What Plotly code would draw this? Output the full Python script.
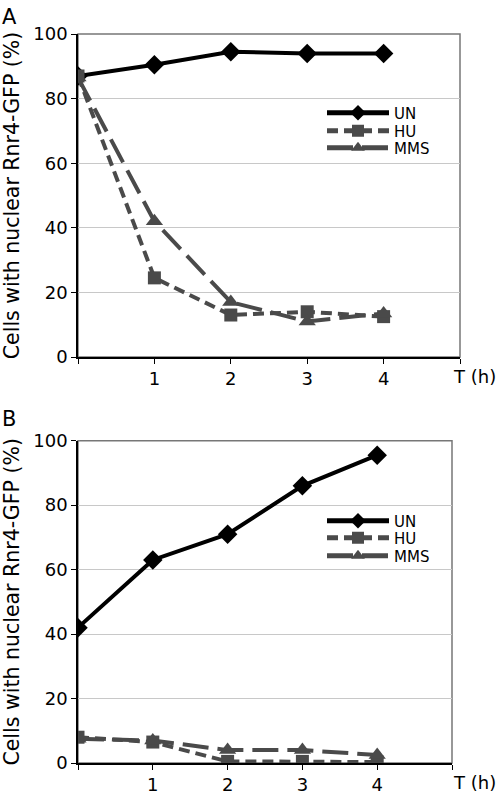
import plotly.graph_objects as go

hours = [0, 1, 2, 3, 4]
tick_vals = [0, 1, 2, 3, 4, 5]
tick_text = ["", "1", "2", "3", "4", ""]
y_ticks = [0, 20, 40, 60, 80, 100]

a_un = [87, 90.5, 94.5, 94, 94]
a_hu = [87, 24.5, 13, 14, 12.5]
a_mms = [86.5, 42, 17, 11, 13.5]

b_un = [42, 63, 71, 86, 95.5]
b_hu = [8, 6.5, 0.5, 0.5, 0.3]
b_mms = [7.5, 7, 4, 4, 2.5]

series_names = ["UN", "HU", "MMS"]
W, H = 498, 796
GRAY = "#4a4a4a"
FONT = "DejaVu Sans"

fig = go.Figure()

leg_ids = ["legend", "legend2", "legend3", "legend4", "legend5", "legend6"]

def add_panel(xa, ya, legs, un, hu, mms):
    specs = [
        (series_names[0], un, "black", "solid", "diamond", 15),
        (series_names[1], hu, GRAY, "11px,6px", "square", 13),
        (series_names[2], mms, GRAY, "26px,9px", "triangle-up", 15),
    ]
    for (name, vals, col, dash, sym, sz), lg in zip(specs, legs):
        fig.add_trace(go.Scatter(
            x=hours, y=vals, name=name, mode="lines+markers",
            xaxis=xa, yaxis=ya, legend=lg,
            line=dict(color=col, width=4, dash=dash),
            marker=dict(symbol=sym, size=sz, color=col),
        ))

add_panel("x", "y", leg_ids[:3], a_un, a_hu, a_mms)
add_panel("x2", "y2", leg_ids[3:], b_un, b_hu, b_mms)

def px_dom(a, b, total):
    return [a / total, b / total]

ax_dom = px_dom(78, 460, W)
ay_dom = [1 - 357 / H, 1 - 34 / H]
bx_dom = px_dom(78, 452, W)
by_dom = [1 - 763 / H, 1 - 440.7 / H]

xcommon = dict(range=[0, 5], tickvals=tick_vals, ticktext=tick_text,
               showline=True, linecolor="black", linewidth=1.5,
               ticks="outside", ticklen=5, tickcolor="black",
               showgrid=False, zeroline=False, automargin=False,
               tickfont=dict(family=FONT, size=18, color="black"))
ycommon = dict(range=[0, 100], tickvals=y_ticks,
               showline=True, linecolor="black", linewidth=1.5,
               ticks="outside", ticklen=5, tickcolor="black",
               showgrid=True, gridcolor="#c8c8c8", gridwidth=1, zeroline=False,
               automargin=False,
               tickfont=dict(family=FONT, size=18, color="black"),
               title=dict(text="Cells with nuclear Rnr4-GFP (%)",
                          font=dict(family=FONT, size=20.5, color="black"),
                          standoff=10))

leg_common = dict(xanchor="left", yanchor="middle",
                  bgcolor="rgba(0,0,0,0)", itemwidth=62, itemsizing="constant",
                  font=dict(family=FONT, size=15, color="black"),
                  tracegroupgap=0)

leg_y = [113, 131, 148, 521, 538, 556]
legends = {lg: dict(x=322 / W, y=1 - yy / H, **leg_common) for lg, yy in zip(leg_ids, leg_y)}

fig.update_layout(
    width=W, height=H,
    margin=dict(l=0, r=0, t=0, b=0),
    paper_bgcolor="white", plot_bgcolor="white",
    showlegend=True,
    xaxis=dict(domain=ax_dom, anchor="y", **xcommon),
    yaxis=dict(domain=ay_dom, anchor="x", **ycommon),
    xaxis2=dict(domain=bx_dom, anchor="y2", **xcommon),
    yaxis2=dict(domain=by_dom, anchor="x2", **ycommon),
    shapes=[
        dict(type="rect", xref="x domain", yref="y domain", x0=0, x1=1, y0=0, y1=1,
             line=dict(color="#777777", width=1.5), layer="below"),
        dict(type="rect", xref="x2 domain", yref="y2 domain", x0=0, x1=1, y0=0, y1=1,
             line=dict(color="#777777", width=1.5), layer="below"),
    ],
    annotations=[
        dict(text="A", x=0, y=1 - 3 / H, xref="paper", yref="paper",
             xanchor="left", yanchor="top", showarrow=False,
             font=dict(family=FONT, size=21, color="black")),
        dict(text="B", x=0, y=1 - 405 / H, xref="paper", yref="paper",
             xanchor="left", yanchor="top", showarrow=False,
             font=dict(family=FONT, size=21, color="black")),
        dict(text="T (h)", x=474 / W, y=1 - 364 / H, xref="paper", yref="paper",
             xanchor="center", yanchor="top", showarrow=False,
             font=dict(family=FONT, size=18, color="black")),
        dict(text="T (h)", x=474 / W, y=1 - 770 / H, xref="paper", yref="paper",
             xanchor="center", yanchor="top", showarrow=False,
             font=dict(family=FONT, size=18, color="black")),
    ],
    **legends,
)

fig.write_html("out.html", config={"displayModeBar": False},
               post_script="document.body.style.margin='0';document.body.style.padding='0';")
